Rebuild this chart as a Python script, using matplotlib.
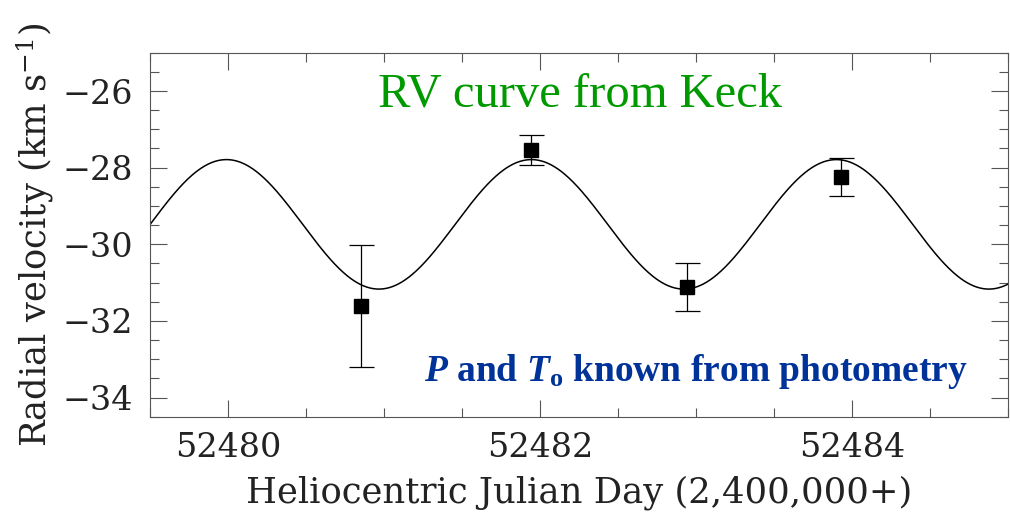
import numpy as np
import matplotlib
matplotlib.use("Agg")
import matplotlib.pyplot as plt
from matplotlib.ticker import MultipleLocator

# Keck radial velocities (HJD - 2,400,000)
hjd = [52480.85, 52481.94, 52482.94, 52483.93]
rv = [-31.61, -27.53, -31.11, -28.24]
rv_err = [1.60, 0.39, 0.63, 0.50]

# orbit fit
gamma = -29.48      # systemic velocity
k_amp = 1.69        # semi-amplitude
period = 1.955      # days, from photometry
t_max = 52479.99    # epoch of maximum velocity

xlim = (52479.5, 52485.0)
ylim = (-34.5, -25.0)

plt.rcParams['font.family'] = ['DejaVu Serif']
plt.rcParams['mathtext.fontset'] = 'custom'
plt.rcParams['mathtext.rm'] = 'DejaVu Serif'
plt.rcParams['mathtext.it'] = 'Liberation Serif:italic:bold'
plt.rcParams['mathtext.bf'] = 'Liberation Serif:bold'

fig = plt.figure(figsize=(10.1, 5.15), dpi=100)
ax = fig.add_axes([0.1485, 0.1909, 0.8495, 0.7068])

t = np.linspace(xlim[0], xlim[1], 800)
model = gamma + k_amp * np.cos(2 * np.pi * (t - t_max) / period)
ax.plot(t, model, color='black', lw=1.1)

ax.errorbar(hjd, rv, yerr=rv_err, fmt='s', color='black', ms=10,
            ecolor='black', elinewidth=0.9, capsize=9, capthick=0.9)

ax.set_xlim(*xlim)
ax.set_ylim(*ylim)

ax.xaxis.set_major_locator(MultipleLocator(2))
ax.xaxis.set_minor_locator(MultipleLocator(0.5))
ax.yaxis.set_major_locator(MultipleLocator(2))
ax.yaxis.set_minor_locator(MultipleLocator(0.5))
ax.ticklabel_format(useOffset=False)

ax.tick_params(which='both', direction='in', top=True, right=True,
               color='#555555', width=0.8, labelsize=24, labelcolor='#222222')
ax.tick_params(which='major', length=12)
ax.tick_params(which='minor', length=6.5)
ax.tick_params(axis='x', pad=11)
ax.tick_params(axis='y', pad=12)
for sp in ax.spines.values():
    sp.set_color('#555555')
    sp.set_linewidth(0.8)

ax.set_xlabel('Heliocentric Julian Day (2,400,000+)', fontsize=25.5,
              color='#222222', labelpad=8)
ax.set_ylabel('Radial velocity (km s$^{-1}$)', fontsize=25.5,
              color='#222222', labelpad=5)

ax.text(0.501, 0.852, 'RV curve from Keck', transform=ax.transAxes,
        ha='center', va='baseline', fontsize=35, color='#009900',
        family='Liberation Serif')
ax.text(0.953, 0.098, r'$\mathit{P}$ and $\mathit{T}_{\mathbf{o}}$ known from photometry',
        transform=ax.transAxes, ha='right', va='baseline', fontsize=27,
        color='#003399', family='Liberation Serif', fontweight='bold')

fig.savefig('out.png', dpi=100)
